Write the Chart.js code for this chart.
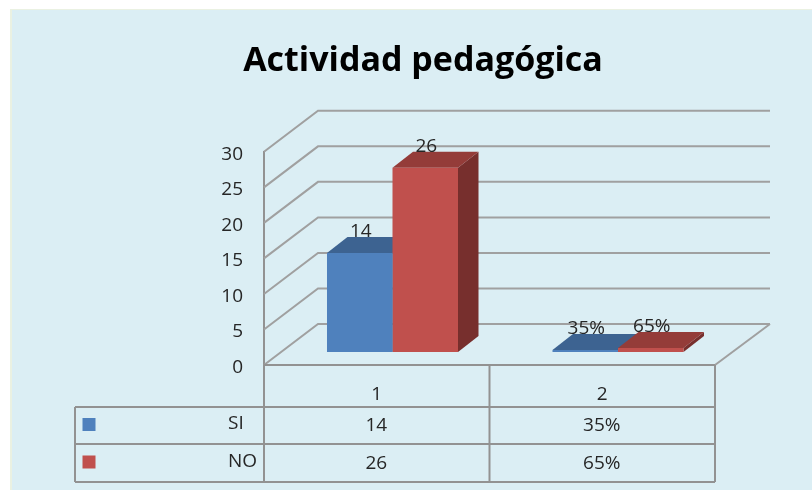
<!DOCTYPE html>
<html>
<head>
<meta charset="utf-8">
<style>
html,body{margin:0;padding:0;background:#fff;overflow:hidden}
canvas{display:block;filter:blur(0.45px)}
</style>
<script src="https://cdn.jsdelivr.net/npm/chart.js@4/dist/chart.umd.min.js"></script>
</head>
<body>
<canvas id="c" width="812" height="490"></canvas>
<script>
const titleText = "Actividad pedagógica";
const categories = ["1", "2"];
const seriesNames = ["SI", "NO"];
const siValues = [14, 0.35];
const noValues = [26, 0.65];
const siLabels = ["14", "35%"];
const noLabels = ["26", "65%"];
const yTicks = [0, 5, 10, 15, 20, 25, 30];

const FONT = '"Open Sans", sans-serif';
const TEXT = '#262626';
const LINE = '#a0a0a0';
const wall = {dx: 54, dy: -41, right: 770};
const barShift = {dx: 15.75, dy: -12.5};
const barDepth = {dx: 20.5, dy: -16};
const tableGeom = {left: 75, rows: [407, 444, 482]};
const textDrop = 2.5;
const faces = [
  {front: '#4F81BD', top: '#3D6391', side: '#315074'},
  {front: '#C0504D', top: '#943C39', side: '#772F2D'}
];

function seg(ctx, pts) {
  ctx.beginPath();
  pts.forEach((p, i) => i ? ctx.lineTo(p[0], p[1]) : ctx.moveTo(p[0], p[1]));
  ctx.stroke();
}

const scene = {
  id: 'scene',
  beforeDraw(chart) {
    const ctx = chart.ctx;
    ctx.save();
    ctx.fillStyle = '#DBEEF4';
    ctx.fillRect(10, 10, 802, 480);
    ctx.fillStyle = '#EAF1E2';
    ctx.fillRect(10, 9, 802, 1);
    ctx.fillRect(10, 9, 2, 481);
    ctx.restore();
  },
  beforeDatasetsDraw(chart) {
    const ctx = chart.ctx, y = chart.scales.y, a = chart.chartArea;
    ctx.save();
    ctx.strokeStyle = LINE;
    ctx.lineWidth = 2;
    yTicks.forEach(v => {
      const py = y.getPixelForValue(v);
      seg(ctx, [[a.left, py], [a.left + wall.dx, py + wall.dy], [wall.right, py + wall.dy]]);
    });
    const py0 = y.getPixelForValue(0);
    seg(ctx, [[wall.right, py0 + wall.dy], [a.right, py0]]);
    // depth faces of every bar go down first, left series before right series,
    // so the front faces the library draws afterwards cover them correctly
    ctx.translate(barShift.dx, barShift.dy);
    faces.forEach((f, ds) => {
      chart.getDatasetMeta(ds).data.forEach(el => {
        const l = el.x - el.width / 2, r = el.x + el.width / 2, t = el.y, b = el.base;
        const d = barDepth;
        ctx.fillStyle = f.side;
        ctx.beginPath();
        ctx.moveTo(r, t); ctx.lineTo(r + d.dx, t + d.dy); ctx.lineTo(r + d.dx, b + d.dy); ctx.lineTo(r, b);
        ctx.closePath(); ctx.fill();
        ctx.fillStyle = f.top;
        ctx.beginPath();
        ctx.moveTo(l, t); ctx.lineTo(l + d.dx, t + d.dy); ctx.lineTo(r + d.dx, t + d.dy); ctx.lineTo(r, t);
        ctx.closePath(); ctx.fill();
      });
    });
    ctx.restore();
  },
  beforeDatasetDraw(chart) {
    chart.ctx.save();
    chart.ctx.translate(barShift.dx, barShift.dy);
  },
  afterDatasetDraw(chart) {
    chart.ctx.restore();
  },
  afterDatasetsDraw(chart) {
    const ctx = chart.ctx;
    ctx.save();
    ctx.font = '19px ' + FONT;
    ctx.fillStyle = TEXT;
    ctx.textAlign = 'center';
    ctx.textBaseline = 'middle';
    [siLabels, noLabels].forEach((labels, ds) => {
      chart.getDatasetMeta(ds).data.forEach((el, i) => {
        ctx.fillText(labels[i], el.x + barShift.dx + 1, el.y + barShift.dy - 23.5 + textDrop);
      });
    });
    ctx.restore();
  },
  afterDraw(chart) {
    const ctx = chart.ctx, a = chart.chartArea, x = chart.scales.x;
    const [r1, r2, r3] = tableGeom.rows, L = tableGeom.left;
    const mid = (x.getPixelForValue(0) + x.getPixelForValue(1)) / 2;
    ctx.save();
    ctx.strokeStyle = '#929292';
    ctx.lineWidth = 2;
    seg(ctx, [[a.left, a.bottom], [a.right, a.bottom]]);
    seg(ctx, [[L, r1], [a.right, r1]]);
    seg(ctx, [[L, r2], [a.right, r2]]);
    seg(ctx, [[L, r3], [a.right, r3]]);
    seg(ctx, [[L, r1], [L, r3]]);
    seg(ctx, [[a.left, a.bottom], [a.left, r3]]);
    seg(ctx, [[mid, a.bottom], [mid, r3]]);
    seg(ctx, [[a.right, a.bottom], [a.right, r3]]);
    ctx.font = '19px ' + FONT;
    ctx.fillStyle = TEXT;
    ctx.textBaseline = 'middle';
    const rowsY = [424, 462];
    [siLabels, noLabels].forEach((labels, ds) => {
      ctx.textAlign = 'center';
      labels.forEach((t, i) => ctx.fillText(t, x.getPixelForValue(i) - 0.5, rowsY[ds] + textDrop - 1));
      ctx.textAlign = 'left';
      ctx.fillText(seriesNames[ds], 228, rowsY[ds] + textDrop - 3);
    });
    ctx.fillStyle = faces[0].front;
    ctx.fillRect(82.5, 418, 13, 13);
    ctx.fillStyle = faces[1].front;
    ctx.fillRect(82.5, 455.5, 13, 13);
    ctx.restore();
  }
};

// Tick labels sit slightly low on their gridlines in the reference.
function dropTickLabels(s) {
  if (s._dropped) return;
  s._dropped = true;
  const compute = s._computeLabelItems;
  s._computeLabelItems = function (area) {
    return compute.call(this, area).map(it => Object.assign({}, it, {textOffset: it.textOffset + textDrop}));
  };
}

new Chart(document.getElementById('c'), {
  type: 'bar',
  data: {
    labels: categories,
    datasets: [
      {label: seriesNames[0], data: siValues, backgroundColor: faces[0].front},
      {label: seriesNames[1], data: noValues, backgroundColor: faces[1].front}
    ]
  },
  options: {
    responsive: false,
    animation: false,
    devicePixelRatio: 1,
    layout: {padding: {left: 131, right: 97, top: 28, bottom: 0}},
    datasets: {bar: {categoryPercentage: 0.581, barPercentage: 1}},
    plugins: {
      legend: {display: false},
      tooltip: {enabled: false},
      title: {
        display: true,
        text: titleText,
        color: '#000',
        font: {family: FONT, size: 34, weight: 'bold', lineHeight: 1.2},
        padding: {top: 13, bottom: 70}
      }
    },
    scales: {
      x: {
        grid: {display: false, drawTicks: false},
        border: {display: false},
        ticks: {color: TEXT, font: {family: FONT, size: 19}, padding: 18, maxRotation: 0},
        afterFit(s) { s.height = 125; }
      },
      y: {
        min: 0, max: 30,
        grid: {drawOnChartArea: false, drawTicks: false},
        border: {display: true, color: '#929292', width: 2},
        ticks: {color: TEXT, font: {family: FONT, size: 19}, padding: 21, stepSize: 5},
        afterFit(s) {
          s.width = 133;
          dropTickLabels(s);
        }
      }
    }
  },
  plugins: [scene]
});
</script>
</body>
</html>
